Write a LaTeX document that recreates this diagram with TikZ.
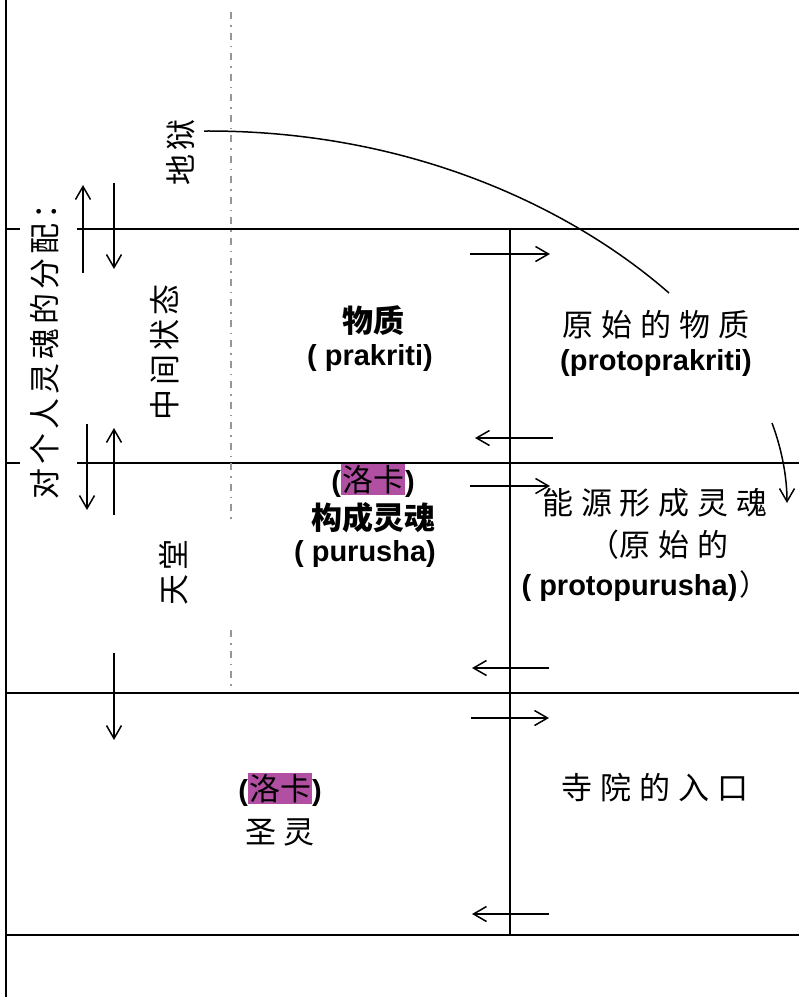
\documentclass[tikz,border=0pt]{standalone}
\usepackage{fontspec}
\setmainfont{Liberation Sans}
\newfontfamily\cjk{Noto Sans CJK SC}
\usetikzlibrary{arrows.meta}
\definecolor{hl}{RGB}{177,79,163}
\definecolor{dashgray}{RGB}{150,150,150}
\newcommand\gapc{\hspace{8pt}}
\newcommand\gaps{\hspace{4pt}}
\newcommand\hlbox[1]{{\setlength{\fboxsep}{1pt}\colorbox{hl}{\fontsize{31}{34}\selectfont\cjk\mdseries #1}}}
\tikzset{
  frame/.style={line width=1.7pt},
  guide/.style={dashgray, line width=1.4pt, dash pattern=on 7pt off 6pt on 1.5pt off 6pt},
  flow/.style={line width=1.5pt, -{Straight Barb[length=13pt,width=15pt,line width=1.5pt]}},
  curve/.style={line width=1.5pt},
  lbl/.style={inner sep=0pt, font=\fontsize{31}{34}\selectfont\cjk},
  side/.style={lbl, rotate=90},
  latin/.style={inner sep=0pt, font=\fontsize{29}{34}\selectfont\bfseries},
}
\begin{document}
\begin{tikzpicture}[x=1pt,y=-1pt]
\useasboundingbox (0,0) rectangle (799,997);
% frame lines
\coordinate (L0) at (6,0); \coordinate (L1) at (6,997);
\draw[frame] (L0) -- (L1);
\coordinate (a1) at (6,229); \coordinate (a2) at (20,229);
\coordinate (a3) at (77,229); \coordinate (a4) at (799,229);
\draw[frame] (a1) -- (a2) (a3) -- (a4);
\coordinate (b1) at (6,463); \coordinate (b2) at (20,463);
\coordinate (b3) at (77,463); \coordinate (b4) at (799,463);
\draw[frame] (b1) -- (b2) (b3) -- (b4);
\coordinate (c1) at (6,693); \coordinate (c2) at (799,693);
\draw[frame] (c1) -- (c2);
\coordinate (d1) at (6,935); \coordinate (d2) at (799,935);
\draw[frame] (d1) -- (d2);
\coordinate (v1) at (510,229); \coordinate (v2) at (510,935);
\draw[frame] (v1) -- (v2);
% dash-dot guide
\coordinate (g1) at (231,12); \coordinate (g2) at (231,522);
\coordinate (g3) at (231,630); \coordinate (g4) at (231,690);
\draw[guide] (g1) -- (g2) (g3) -- (g4);
% vertical arrows
\coordinate (u1s) at (83,273); \coordinate (u1e) at (83,185);
\coordinate (d1s) at (114,183); \coordinate (d1e) at (114,269);
\coordinate (d2s) at (87,424); \coordinate (d2e) at (87,510);
\coordinate (u2s) at (114,515); \coordinate (u2e) at (114,428);
\coordinate (d3s) at (114,653); \coordinate (d3e) at (114,740);
\draw[flow] (u1s) -- (u1e);
\draw[flow] (d1s) -- (d1e);
\draw[flow] (d2s) -- (d2e);
\draw[flow] (u2s) -- (u2e);
\draw[flow] (d3s) -- (d3e);
% horizontal arrows
\coordinate (r1s) at (470,254); \coordinate (r1e) at (550,254);
\coordinate (l1s) at (553,438); \coordinate (l1e) at (475,438);
\coordinate (r2s) at (470,486); \coordinate (r2e) at (550,486);
\coordinate (l2s) at (549,668); \coordinate (l2e) at (472,668);
\coordinate (r3s) at (471,718); \coordinate (r3e) at (549,718);
\coordinate (l3s) at (549,914); \coordinate (l3e) at (472,914);
\draw[flow] (r1s) -- (r1e);
\draw[flow] (l1s) -- (l1e);
\draw[flow] (r2s) -- (r2e);
\draw[flow] (l2s) -- (l2e);
\draw[flow] (r3s) -- (r3e);
\draw[flow] (l3s) -- (l3e);
% side labels
\node[side] (dist) at (45,344) {对\gaps 个\gaps 人\gaps 灵\gaps 魂\gaps 的\gaps 分\gaps 配\gaps ：};
\node[side] (hell) at (181,152) {地\gaps 狱};
\node[side] (mid) at (165,352) {中\gaps 间\gaps 状\gaps 态};
\node[side] (heaven) at (174,572) {天\gaps 堂};
% centre texts
\node[lbl, font=\fontsize{31}{34}\selectfont\cjk\bfseries] (matter) at (373,321) {物质};
\node[latin] (prak) at (370,358) {( prakriti)};
\node[lbl] (proto) at (656,325) {原\gapc 始\gapc 的\gapc 物\gapc 质};
\node[latin] (protop) at (656,363) {(protoprakriti)};
\node[latin] (loka1) at (373,481) {(\hlbox{洛卡})};
\node[lbl, font=\fontsize{31}{34}\selectfont\cjk\bfseries] (soul) at (373,518) {构成灵魂};
\node[latin] (puru) at (365,554) {( purusha)};
\node[lbl] (energy) at (655,503) {能\gapc 源\gapc 形\gapc 成\gapc 灵\gapc 魂};
\node[lbl] (orig) at (658,545) {（原\gapc 始\gapc 的};
\node[latin] (protopu) at (645,586) {( protopurusha)\hspace{2pt}{\cjk\mdseries ）}};
\node[latin] (loka2) at (280,790) {(\hlbox{洛卡})};
\node[lbl] (spirit) at (280,832) {圣\gapc 灵};
\node[lbl] (temple) at (655,788) {寺\gapc 院\gapc 的\gapc 入\gapc 口};
% curves
\coordinate (hs) at (204,131); \coordinate (he) at (669,293);
\draw[curve] (hs) .. controls (420,130) and (580,215) .. (he);
\coordinate (cs) at (772,423); \coordinate (ce) at (787,503);
\draw[flow] (cs) .. controls (781,447) and (787,475) .. (ce);
\end{tikzpicture}
\end{document}
